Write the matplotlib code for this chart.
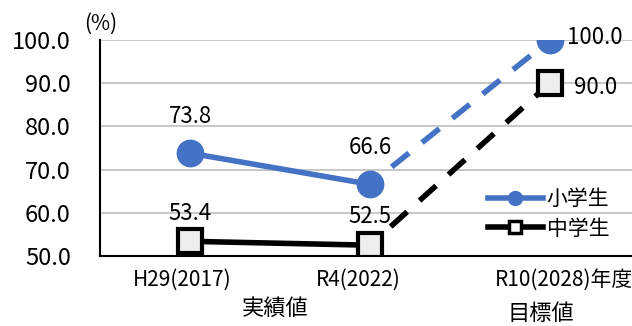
import matplotlib
matplotlib.use("Agg")
import matplotlib.pyplot as plt
import matplotlib.transforms as mtransforms

plt.rcParams['font.family'] = ['Noto Sans CJK JP', 'DejaVu Sans']

categories = ["H29(2017)", "R4(2022)", "R10(2028)年度"]
elementary = [73.8, 66.6, 100.0]
junior = [53.4, 52.5, 90.0]
series_names = ["小学生", "中学生"]
yticks = [50, 60, 70, 80, 90, 100]

BLUE = "#4472C4"
W, H = 632, 326
fig = plt.figure(figsize=(W / 100, H / 100), dpi=100)
L, R, T, B = 100, 632, 40, 256
ax = fig.add_axes([L / W, (H - B) / H, (R - L) / W, (B - T) / H])

x = [0, 1, 2]
ax.set_xlim(-0.5, (R - L) / 180 - 0.5)
ax.set_ylim(50, 100)

for s in ["top", "right"]:
    ax.spines[s].set_visible(False)
ax.spines["left"].set_linewidth(1.5)
ax.spines["bottom"].set_linewidth(1.5)
ax.yaxis.grid(True, color="#BFBFBF", linewidth=1.2)
ax.set_axisbelow(True)
ax.set_yticks(yticks)
ax.set_yticklabels([f"{v:.1f}" for v in yticks], fontsize=17)
ax.tick_params(axis="y", length=0, pad=21)
ax.set_xticks(x)
ax.set_xticklabels(categories, fontsize=15)
ax.tick_params(axis="x", length=0, pad=9)
for lab_, dx in zip(ax.get_xticklabels(), [-8, -12, 14]):
    lab_.set_transform(lab_.get_transform() + mtransforms.Affine2D().translate(dx, 0))

lw = 4
ax.plot(x[:2], elementary[:2], color=BLUE, lw=lw, zorder=3)
ax.plot(x[:2], junior[:2], color="black", lw=lw, zorder=3)
ax.plot(x[1:], elementary[1:], color=BLUE, lw=lw, ls=(2, (4, 3)), zorder=3)
ax.plot(x[1:], junior[1:], color="black", lw=lw, ls=(2, (4, 3)), zorder=3)
ax.plot(x, elementary, ls="none", marker="o", ms=19, color=BLUE, zorder=4)
ax.plot(x, junior, ls="none", marker="s", ms=17, mfc="#EEEEEE", mec="black", mew=3, zorder=4)

h1, = ax.plot([], [], color=BLUE, lw=lw, marker="o", ms=10)
h2, = ax.plot([], [], color="black", lw=lw, marker="s", ms=8, mfc="white", mec="black", mew=2.5)
ax.legend([h1, h2], series_names, loc="upper left",
          bbox_to_anchor=((480 - L) / (R - L), 1 - (180 - T) / (B - T)),
          frameon=False, fontsize=15, handlelength=2.6, handletextpad=0.2, labelspacing=0.35,
          borderaxespad=0)

def lab(xi, yi, text, dx, dy, ha="center"):
    ax.annotate(text, (xi, yi), xytext=(dx, dy), textcoords="offset pixels",
                ha=ha, va="center", fontsize=16)

lab(0, elementary[0], "73.8", 0, 37)
lab(0, junior[0], "53.4", 0, 28)
lab(1, elementary[1], "66.6", 0, 37)
lab(1, junior[1], "52.5", 0, 29)
lab(2, elementary[2], "100.0", 17, 2, ha="left")
lab(2, junior[2], "90.0", 24, -4, ha="left")

fig.text(101 / W, 1 - 24 / H, "(%)", ha="center", va="center", fontsize=15)
fig.text(275 / W, 1 - 308 / H, "実績値", ha="center", va="center", fontsize=16)
fig.text(541 / W, 1 - 314 / H, "目標値", ha="center", va="center", fontsize=16)

fig.savefig("out.png", dpi=100)
